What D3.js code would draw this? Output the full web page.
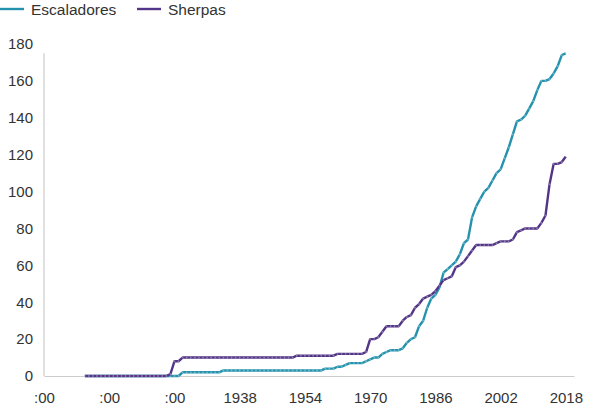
<!DOCTYPE html>
<html>
<head>
<meta charset="utf-8">
<script src="https://cdn.jsdelivr.net/npm/d3@7"></script>
<style>
  html, body { margin: 0; padding: 0; background: #fff; }
  svg { display: block; font-family: "Liberation Sans", Arial, sans-serif; }
</style>
</head>
<body>
<svg id="chart" width="592" height="408"></svg>
<script>
const startYear = 1900;
const seriesNames = ["Escaladores", "Sherpas"];
// cumulative values, one per year from 1900 to 2018
const escaladores = [
  0,0,0,0,0,0,0,0,0,0,          // 1900-1909
  0,0,0,0,0,0,0,0,0,0,          // 1910-1919
  0,0,0,0,2,2,2,2,2,2,          // 1920-1929
  2,2,2,2,3,3,3,3,3,3,          // 1930-1939
  3,3,3,3,3,3,3,3,3,3,          // 1940-1949
  3,3,3,3,3,3,3,3,3,4,          // 1950-1959
  4,4,5,5,6,7,7,7,7,8,          // 1960-1969
  9,10,10,12,13,14,14,14,15,18, // 1970-1979
  20,21,27,30,37,42,44,48,56,58,// 1980-1989
  60,62,66,72,74,86,92,96,100,102, // 1990-1999
  106,110,112,118,124,131,138,139,141,145, // 2000-2009
  149,155,160,160,161,164,168,174,175      // 2010-2018
];
const sherpas = [
  0,0,0,0,0,0,0,0,0,0,          // 1900-1909
  0,0,0,0,0,0,0,0,0,0,          // 1910-1919
  0,1,8,8,10,10,10,10,10,10,    // 1920-1929
  10,10,10,10,10,10,10,10,10,10,// 1930-1939
  10,10,10,10,10,10,10,10,10,10,// 1940-1949
  10,10,11,11,11,11,11,11,11,11,// 1950-1959
  11,11,12,12,12,12,12,12,12,13,// 1960-1969
  20,20,21,24,27,27,27,27,30,32,// 1970-1979
  33,37,39,42,43,44,46,49,52,53,// 1980-1989
  54,59,60,62,65,68,71,71,71,71,// 1990-1999
  71,72,73,73,73,74,78,79,80,80,// 2000-2009
  80,80,83,87,104,115,115,116,119 // 2010-2018
];
const xTickValues = [1890, 1906, 1922, 1938, 1954, 1970, 1986, 2002, 2018];
const xTickLabels = [":00", ":00", ":00", "1938", "1954", "1970", "1986", "2002", "2018"];
const yTickValues = [0, 20, 40, 60, 80, 100, 120, 140, 160, 180];
const colors = ["#2592ad", "#523586"];

const svg = d3.select("#chart");
const x = d3.scaleLinear().domain([1890, 2020]).range([44, 574]);
const y = d3.scaleLinear().domain([0, 180]).range([376, 44]);

// axes
const xAxis = d3.axisBottom(x).tickValues(xTickValues)
  .tickFormat((d, i) => xTickLabels[i]).tickSize(0).tickPadding(16);
const gx = svg.append("g").attr("transform", `translate(0,${y(0)})`).call(xAxis);
gx.select(".domain").attr("stroke", "#cccccc").attr("stroke-width", 1.2);
gx.selectAll("text").attr("font-size", 15).attr("fill", "#333").attr("font-family", "Liberation Sans, Arial, sans-serif");

const yAxis = d3.axisLeft(y).tickValues(yTickValues).tickSize(0).tickPadding(11);
const gy = svg.append("g").attr("transform", `translate(${x(1890)},0)`).call(yAxis);
gy.select(".domain").attr("stroke", "#cccccc").attr("stroke-width", 1.2)
  .attr("d", `M0,${y(0)}V${y(175)}`);
gy.selectAll("text").attr("font-size", 15).attr("fill", "#333").attr("font-family", "Liberation Sans, Arial, sans-serif");

// lines
const allSeries = [escaladores, sherpas];
const line = d3.line().x((d, i) => x(startYear + i)).y(d => y(d));
allSeries.forEach((vals, k) => {
  svg.append("path").datum(vals)
    .attr("fill", "none").attr("stroke", colors[k])
    .attr("stroke-width", 2.4).attr("stroke-linejoin", "round")
    .attr("d", line);
  svg.append("g").selectAll("circle").data(vals).join("circle")
    .attr("cx", (d, i) => x(startYear + i)).attr("cy", d => y(d))
    .attr("r", 0.9).attr("fill", "#ffffff").attr("opacity", 0.35);
});

// legend
const legend = svg.append("g");
const legendX = [0, 137];
seriesNames.forEach((name, k) => {
  const g = legend.append("g").attr("transform", `translate(${legendX[k]},9)`);
  g.append("line").attr("x1", 0).attr("x2", 24).attr("y1", 0).attr("y2", 0)
    .attr("stroke", colors[k]).attr("stroke-width", 2.4);
  g.append("text").attr("x", 31).attr("y", 5.5).attr("font-size", 15.5)
    .attr("fill", "#333").text(name);
});
</script>
</body>
</html>
